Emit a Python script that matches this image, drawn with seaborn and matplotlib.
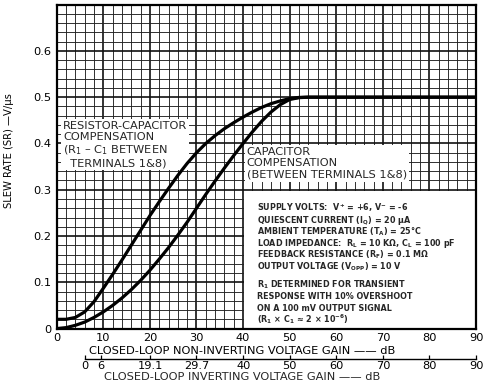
import numpy as np
import pandas as pd
import matplotlib
matplotlib.use("Agg")
import matplotlib.pyplot as plt
import seaborn as sns
from matplotlib.patches import Rectangle

# closed-loop non-inverting voltage gain (dB)
gain_db = [0, 2, 4, 6, 8, 10, 12, 14, 16, 18, 20, 22, 24, 26, 28, 30, 32, 34,
           36, 38, 40, 42, 44, 46, 48, 50, 52, 54, 60, 70, 80, 90]
# slew rate (V/us), resistor-capacitor compensation
sr_rc = [0.020, 0.020, 0.024, 0.036, 0.058, 0.087, 0.117, 0.148, 0.180, 0.212,
         0.244, 0.274, 0.303, 0.331, 0.357, 0.380, 0.400, 0.417, 0.432, 0.445,
         0.457, 0.468, 0.478, 0.486, 0.492, 0.497, 0.4995, 0.500, 0.500, 0.500,
         0.500, 0.500]
# slew rate (V/us), capacitor compensation
sr_c = [0.000, 0.002, 0.007, 0.014, 0.024, 0.036, 0.050, 0.066, 0.084, 0.104,
        0.126, 0.150, 0.175, 0.202, 0.230, 0.260, 0.290, 0.319, 0.347, 0.374,
        0.400, 0.425, 0.448, 0.468, 0.484, 0.495, 0.499, 0.500, 0.500, 0.500,
        0.500, 0.500]

x_ticks = [0, 10, 20, 30, 40, 50, 60, 70, 80, 90]
y_ticks = [0, 0.1, 0.2, 0.3, 0.4, 0.5, 0.6]
y_labels = ['0', '0.1', '0.2', '0.3', '0.4', '0.5', '0.6']
# inverting gain scale (dB)
inv_ticks = [0, 6, 19.1, 29.7, 40, 50, 60, 70, 80, 90]
inv_labels = ['0', '6', '19.1', '29.7', '40', '50', '60', '70', '80', '90']

cond_lines = [
    r"SUPPLY VOLTS:  V$^\mathbf{+}$ = +6, V$^\mathbf{-}$ = -6",
    r"QUIESCENT CURRENT (I$_\mathbf{Q}$) = 20 μA",
    r"AMBIENT TEMPERATURE (T$_\mathbf{A}$) = 25°C",
    r"LOAD IMPEDANCE:  R$_\mathbf{L}$ = 10 KΩ, C$_\mathbf{L}$ = 100 pF",
    r"FEEDBACK RESISTANCE (R$_\mathbf{F}$) = 0.1 MΩ",
    r"OUTPUT VOLTAGE (V$_\mathbf{OPP}$) = 10 V",
]
note_lines = [
    r"R$_\mathbf{1}$ DETERMINED FOR TRANSIENT",
    "RESPONSE WITH 10% OVERSHOOT",
    "ON A 100 mV OUTPUT SIGNAL",
    r"(R$_\mathbf{1}$ × C$_\mathbf{1}$ ≈ 2 × 10$^\mathbf{-6}$)",
]

sns.set_theme(style="white")
plt.rcParams['font.family'] = ['DejaVu Sans']
plt.rcParams['mathtext.fontset'] = 'dejavusans'

fs = 8.2

fig, ax = plt.subplots(figsize=(4.91, 3.87), dpi=100)
fig.subplots_adjust(left=0.1155, right=0.9695, bottom=0.151, top=0.988)

n = len(gain_db)
df = pd.DataFrame({'gain': gain_db * 2,
                   'sr': sr_rc + sr_c,
                   'comp': ['rc'] * n + ['c'] * n})
sns.lineplot(data=df, x='gain', y='sr', hue='comp', palette=['black', 'black'],
             estimator=None, lw=2.3, legend=False, ax=ax, zorder=5,
             solid_joinstyle='round', solid_capstyle='round')

ax.set_xlim(0, 90)
ax.set_ylim(0, 0.7)
ax.set_xticks(x_ticks)
ax.set_xticks(np.arange(0, 91, 2), minor=True)
ax.set_yticks(y_ticks, y_labels)
ax.set_yticks(np.arange(0, 0.701, 0.02), minor=True)
ax.set_axisbelow(True)
ax.grid(which='major', color='#111111', lw=1.2)
ax.grid(which='minor', color='#222222', lw=0.65)
ax.tick_params(which='both', length=0, labelsize=fs, colors='black')
ax.tick_params(axis='x', pad=3)
ax.tick_params(axis='y', pad=4)
for s in ax.spines.values():
    s.set_color('black')
    s.set_linewidth(1.6)

ax.set_ylabel("SLEW RATE (SR) —V/μs", fontsize=7.2, color='black')
ax.yaxis.set_label_coords(-0.102, 0.55)
ax.set_xlabel("CLOSED-LOOP NON-INVERTING VOLTAGE GAIN —— dB", fontsize=fs, color='black')
ax.xaxis.set_label_coords(0.443, -0.054)

# inverting gain scale, placed at matching non-inverting gain
inv_pos = [min(round(20 * np.log10(1 + 10 ** (g / 20)), 2), 90) for g in inv_ticks]
sec = ax.secondary_xaxis(-0.095)
sec.set_xticks(inv_pos, inv_labels)
sec.tick_params(direction='in', length=3, width=0.9, pad=1.5, labelsize=fs, colors='black')
sec.spines['bottom'].set_bounds(inv_pos[0], 90)
sec.spines['bottom'].set_linewidth(1.0)
sec.spines['bottom'].set_color('black')
ax.text(0.441, -0.148, "CLOSED-LOOP INVERTING VOLTAGE GAIN —— dB", fontsize=fs,
        ha='center', va='center', transform=ax.transAxes, clip_on=False)

# annotations
ax.text(0.015, 0.642, "RESISTOR-CAPACITOR\nCOMPENSATION\n(R$_1$ – C$_1$ BETWEEN\n  TERMINALS 1&8)",
        fontsize=fs, ha='left', va='top', linespacing=1.15, transform=ax.transAxes,
        zorder=3, bbox=dict(facecolor='white', edgecolor='none', pad=1.5))
ax.text(0.453, 0.560, "CAPACITOR\nCOMPENSATION\n(BETWEEN TERMINALS 1&8)",
        fontsize=fs, ha='left', va='top', linespacing=1.15, transform=ax.transAxes,
        zorder=3, bbox=dict(facecolor='white', edgecolor='none', pad=1.5))

ax.add_patch(Rectangle((0.447, 0.0), 0.553, 0.425, transform=ax.transAxes,
                       facecolor='white', edgecolor='none', zorder=2))
for i, line in enumerate(cond_lines):
    ax.text(0.478, 0.3635 - i * 0.0361, line, fontsize=5.8, family='DejaVu Sans',
            fontweight='bold', ha='left', va='baseline', transform=ax.transAxes, zorder=4)
for i, line in enumerate(note_lines):
    ax.text(0.478, 0.1272 - i * 0.0361, line, fontsize=5.8, family='DejaVu Sans',
            fontweight='bold', ha='left', va='baseline', transform=ax.transAxes, zorder=4)

fig.savefig("out.png", dpi=100)
